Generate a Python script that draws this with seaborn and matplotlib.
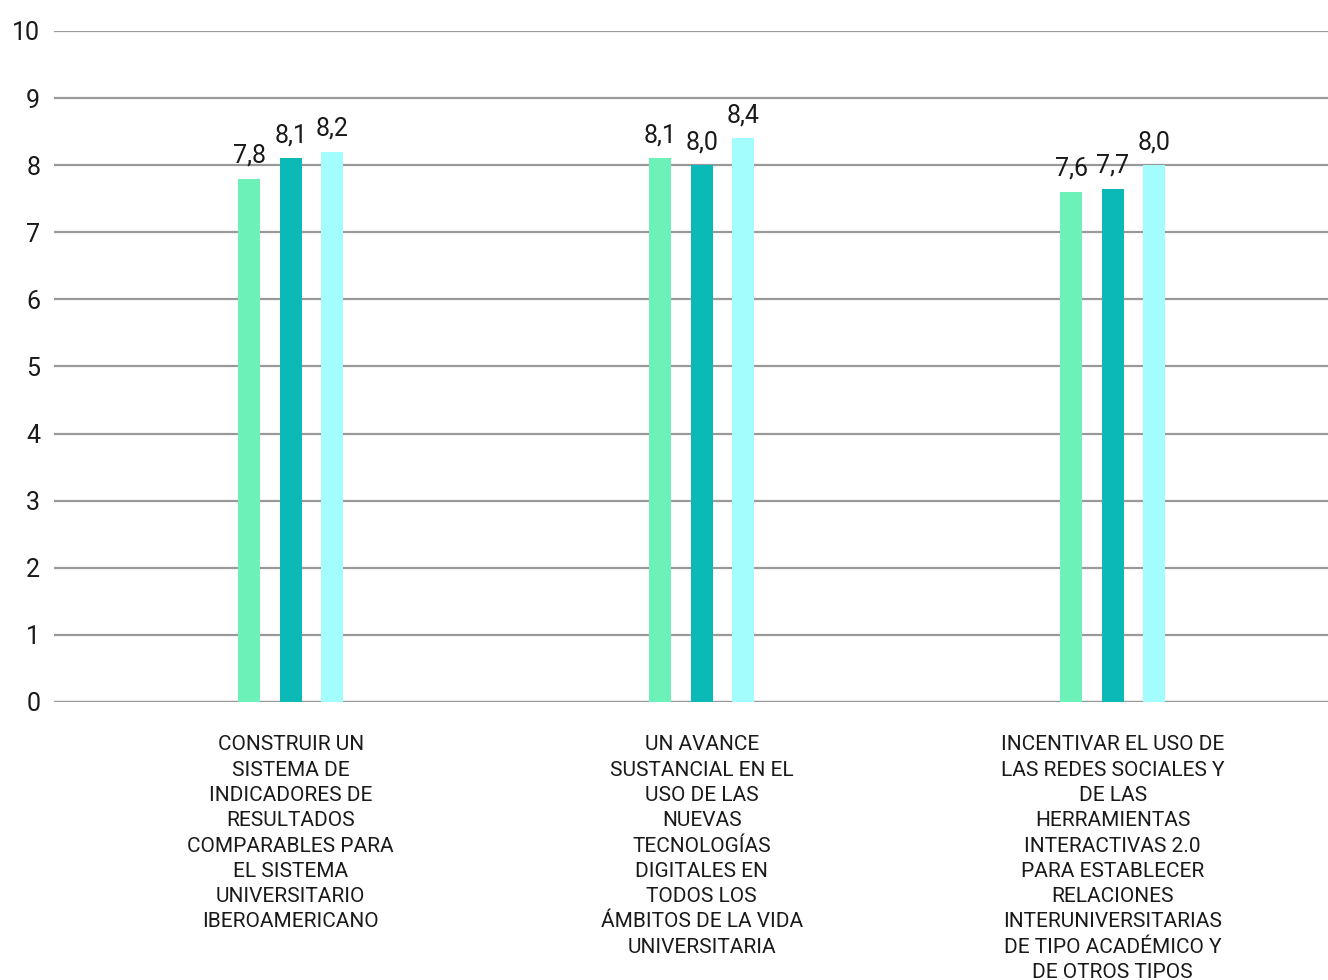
import pandas as pd
import matplotlib
matplotlib.use("Agg")
import matplotlib.pyplot as plt
import seaborn as sns

# Data
categories = [
    "CONSTRUIR UN\nSISTEMA DE\nINDICADORES DE\nRESULTADOS\nCOMPARABLES PARA\nEL SISTEMA\nUNIVERSITARIO\nIBEROAMERICANO",
    "UN AVANCE\nSUSTANCIAL EN EL\nUSO DE LAS\nNUEVAS\nTECNOLOGÍAS\nDIGITALES EN\nTODOS LOS\nÁMBITOS DE LA VIDA\nUNIVERSITARIA",
    "INCENTIVAR EL USO DE\nLAS REDES SOCIALES Y\nDE LAS\nHERRAMIENTAS\nINTERACTIVAS 2.0\nPARA ESTABLECER\nRELACIONES\nINTERUNIVERSITARIAS\nDE TIPO ACADÉMICO Y\nDE OTROS TIPOS",
]
series = ["Serie 1", "Serie 2", "Serie 3"]
serie_1 = [7.8, 8.1, 7.6]
serie_2 = [8.1, 8.0, 7.65]
serie_3 = [8.2, 8.4, 8.0]
value_labels = [["7,8", "8,1", "7,6"], ["8,1", "8,0", "7,7"], ["8,2", "8,4", "8,0"]]
y_ticks = list(range(0, 11))

colors = ["#6CF2B8", "#0BBAB6", "#A3FDFC"]

rows = []
for s, vals in zip(series, [serie_1, serie_2, serie_3]):
    for c, v in zip(categories, vals):
        rows.append({"categoria": c, "serie": s, "valor": v})
df = pd.DataFrame(rows)

sns.set_style("white")
plt.rcParams["font.family"] = ["Roboto", "DejaVu Sans"]

fig = plt.figure(figsize=(13.28, 9.8), dpi=100)
ax = fig.add_axes([0.0407, 0.2837, 0.9593, 0.6847])

sns.barplot(data=df, x="categoria", y="valor", hue="serie", palette=colors,
            width=0.303, gap=0.47, legend=False, ax=ax, errorbar=None,
            saturation=1, linewidth=0)

# value labels above bars
for container, labels in zip(ax.containers, value_labels):
    for bar, lab in zip(container, labels):
        ax.annotate(lab, (bar.get_x() + bar.get_width() / 2, bar.get_height()),
                    xytext=(0, 8), textcoords="offset points",
                    ha="center", va="bottom", fontsize=18, color="#1a1a1a")

ax.set_ylim(0, 10)
ax.set_xlim(-0.576, 2.524)
ax.set_yticks(y_ticks)
ax.yaxis.grid(True, color="#999999", linewidth=1.6)
ax.set_axisbelow(True)
for sp in ax.spines.values():
    sp.set_visible(False)
ax.axhline(0, color="#999999", linewidth=1.6, zorder=0)

ax.tick_params(axis="y", length=0, pad=10, labelsize=18, labelcolor="#1a1a1a")
ax.tick_params(axis="x", length=0, pad=24, labelsize=15, labelcolor="#1a1a1a")
for t in ax.get_xticklabels():
    t.set_linespacing(1.42)
ax.set_xlabel("")
ax.set_ylabel("")

fig.savefig("out.png", dpi=100)
